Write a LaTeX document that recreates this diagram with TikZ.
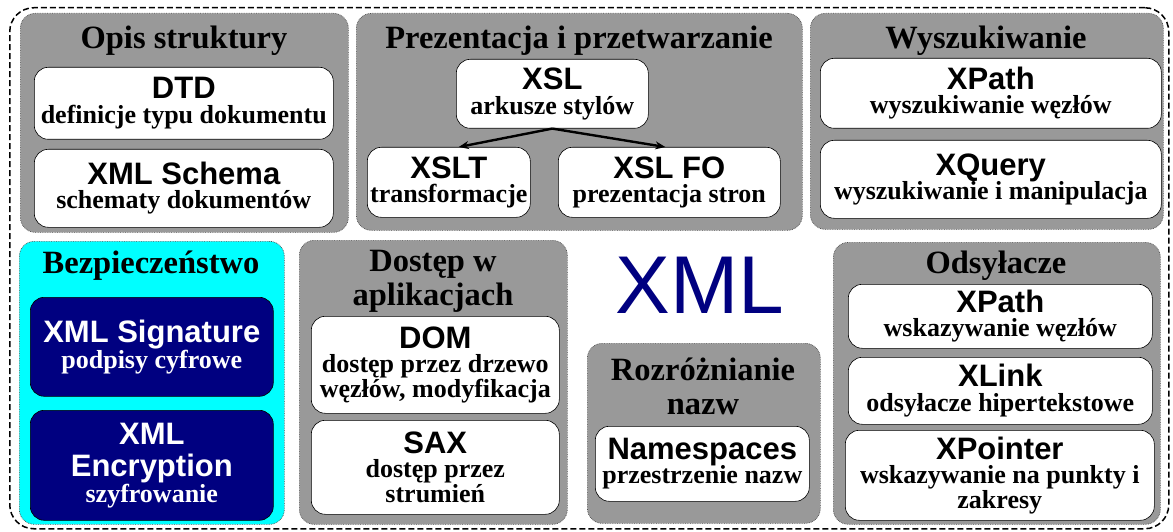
\documentclass[tikz,border=0pt]{standalone}
\usepackage{fontspec}
\setmainfont{Liberation Serif}
\newfontfamily\arialfont{Liberation Sans}
\usetikzlibrary{arrows.meta}
\definecolor{xmlnavy}{RGB}{0,0,128}
\definecolor{xmlcyan}{RGB}{0,255,255}
\newcommand{\hd}[1]{{\arialfont\bfseries\fontsize{31}{32}\selectfont #1}}

\begin{document}
\begin{tikzpicture}[x=1pt, y=-1pt,
    frame/.style={draw, dash pattern=on 6pt off 3pt, line width=1.5pt, rounded corners=24pt, anchor=north west, inner sep=0pt},
    group/.style={draw=black!70, densely dotted, line width=0.7pt, fill=black!40, rounded corners=15pt, anchor=north west, inner sep=0pt},
    title/.style={font=\bfseries\fontsize{32.5}{34}\selectfont, align=center, inner sep=0pt},
    item/.style={draw, line width=0.6pt, fill=white, rounded corners=14pt, anchor=north west, inner sep=0pt, align=center, font=\bfseries\fontsize{26}{24.5}\selectfont},
    arrow/.style={-{Stealth[length=10pt,width=8pt]}, line width=2.4pt}
]
\useasboundingbox (0,0) rectangle (1173,532);
\node[frame, minimum width=1159pt, minimum height=521pt] (frame) at (9,7) {};

% groups
\node[group, minimum width=328pt, minimum height=219pt] (opis) at (20,13) {};
\node[group, minimum width=446pt, minimum height=217pt] (prez) at (356,13) {};
\node[group, minimum width=353pt, minimum height=216pt] (wysz) at (810,13) {};
\node[group, fill=xmlcyan, minimum width=265pt, minimum height=283pt] (bezp) at (19,241) {};
\node[group, minimum width=268pt, minimum height=284pt] (dost) at (299,240) {};
\node[group, minimum width=233pt, minimum height=180pt] (rozr) at (587,343) {};
\node[group, minimum width=327pt, minimum height=282pt] (odsy) at (833,242) {};

% titles
\node[title] (opist) at (184,41) {Opis struktury};
\node[title] (prezt) at (579,41) {Prezentacja i przetwarzanie};
\node[title] (wyszt) at (986,41) {Wyszukiwanie};
\node[title] (bezpt) at (151,266) {Bezpieczeństwo};
\node[title] (dostt) at (433,281) {Dostęp w\\aplikacjach};
\node[title] (rozrt) at (703,386) {Rozróżnianie\\nazw};
\node[title] (odsyt) at (996,266) {Odsyłacze};

% Opis struktury
\node[item, minimum width=299pt, minimum height=72pt] (dtd) at (34,67) {\hd{DTD}\\definicje typu dokumentu};
\node[item, minimum width=299pt, minimum height=78pt] (schema) at (34,149) {\hd{XML Schema}\\schematy dokumentów};

% Prezentacja i przetwarzanie
\node[item, minimum width=192pt, minimum height=69pt] (xsl) at (456,59) {\hd{XSL}\\arkusze stylów};
\node[item, minimum width=163pt, minimum height=70pt] (xslt) at (367,147) {\hd{XSLT}\\transformacje};
\node[item, minimum width=222pt, minimum height=70pt] (xslfo) at (558,147) {\hd{XSL FO}\\prezentacja stron};
\draw[arrow] (xsl.south) -- ([xshift=10pt]xslt.north);
\draw[arrow] (xsl.south) -- ([xshift=-4pt]xslfo.north);

% Wyszukiwanie
\node[item, minimum width=341pt, minimum height=70pt] (xpatha) at (820,58) {\hd{XPath}\\wyszukiwanie węzłów};
\node[item, minimum width=341pt, minimum height=78pt] (xquery) at (820,140) {\hd{XQuery}\\wyszukiwanie i manipulacja};

% Bezpieczenstwo
\node[item, fill=xmlnavy, text=white, minimum width=243pt, minimum height=99pt] (sig) at (30,297) {\hd{XML Signature}\\podpisy cyfrowe};
\node[item, fill=xmlnavy, text=white, minimum width=243pt, minimum height=110pt] (enc) at (30,410) {\hd{XML}\\[8pt]\hd{Encryption}\\szyfrowanie};

% Dostep w aplikacjach
\node[item, minimum width=248pt, minimum height=97pt] (dom) at (311,316) {\hd{DOM}\\dostęp przez drzewo\\węzłów, modyfikacja};
\node[item, minimum width=248pt, minimum height=94pt] (sax) at (311,420) {\hd{SAX}\\dostęp przez\\strumień};

% Rozroznianie nazw
\node[item, minimum width=214pt, minimum height=75pt] (ns) at (595,426) {\hd{Namespaces}\\przestrzenie nazw};

% Odsylacze
\node[item, minimum width=304pt, minimum height=64pt] (xpathb) at (848,284) {\hd{XPath}\\wskazywanie węzłów};
\node[item, minimum width=304pt, minimum height=67pt] (xlink) at (848,357) {\hd{XLink}\\odsyłacze hipertekstowe};
\node[item, minimum width=309pt, minimum height=90pt] (xpointer) at (845,430) {\hd{XPointer}\\wskazywanie na punkty i\\zakresy};

% big label
\node[text=xmlnavy, font=\arialfont\fontsize{82}{82}\selectfont, inner sep=0pt] (xml) at (700,285) {XML};
\end{tikzpicture}
\end{document}
